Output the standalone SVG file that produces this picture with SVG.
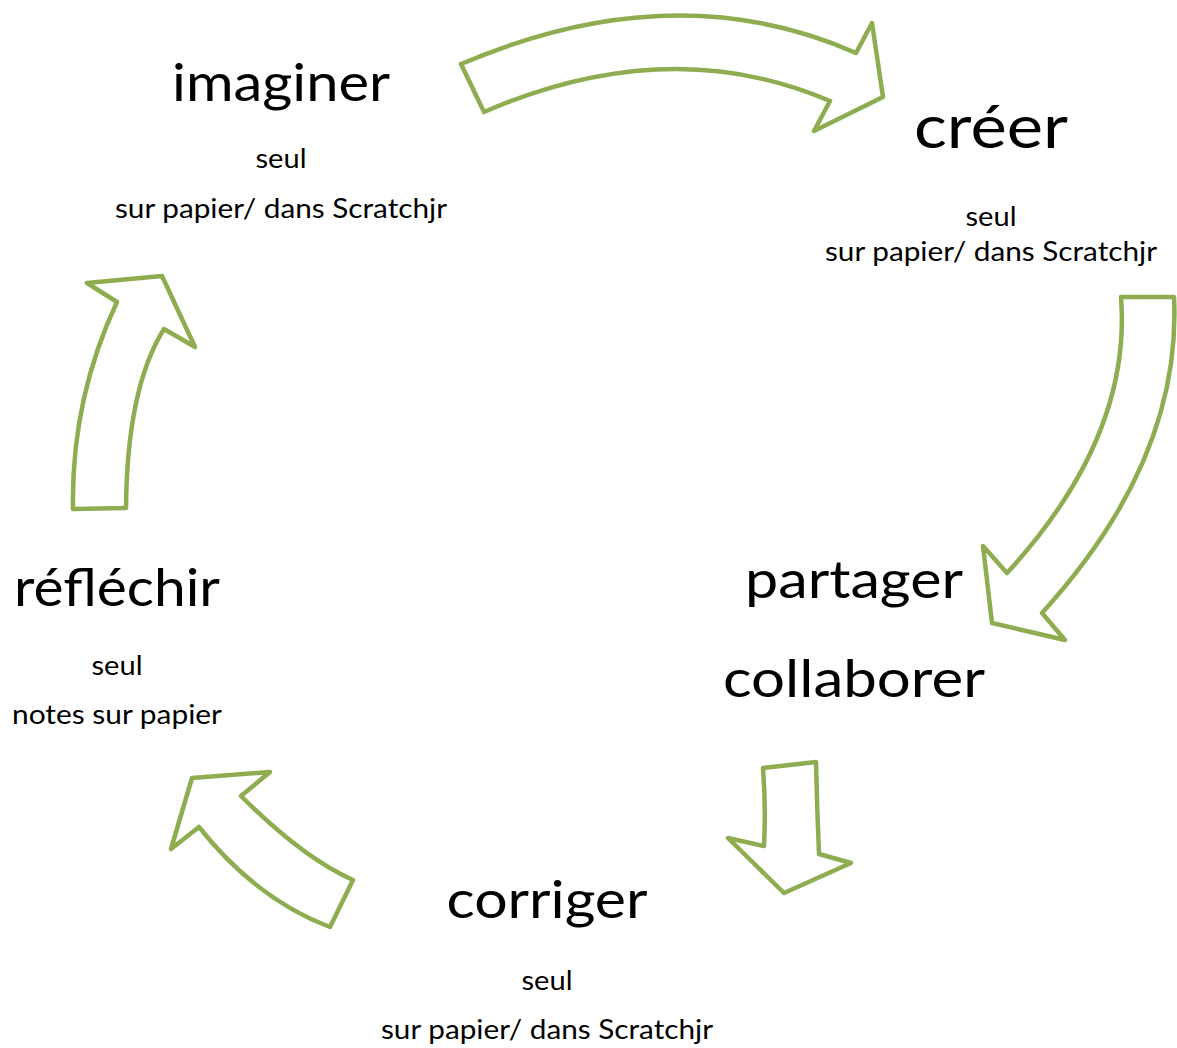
<svg xmlns="http://www.w3.org/2000/svg" width="1177" height="1048" viewBox="0 0 1177 1048">
<style>
.arrow{fill:#ffffff;stroke:#8eac50;stroke-width:4.5;stroke-linejoin:round}
.t{font-family:"Lato","Open Sans","Liberation Sans",sans-serif;fill:#000;text-anchor:middle}
.big{font-size:52px}
.small{font-size:26px}
</style>
<rect width="1177" height="1048" fill="#ffffff"/>
<g id="connectors">
<path class="arrow" d="M461,64 Q675,-27 856,53 L872,23 L883,97 L814,131 L830,101 Q669,32 484,112 Z"/>
<path class="arrow" d="M1121,297 L1174,297 Q1182,459 1042,613 L1065,640 L992,623 L983,546 L1007,573 Q1132,437 1121,297 Z"/>
<path class="arrow" d="M763,768 L816,762 Q817,808 819,854 L851,863 L784,893 L728,838 L764,846 Q766,807 763,768 Z"/>
<path class="arrow" d="M353,880 L330,927 Q256,899 199,827 L171,849 L192,778 L270,772 L241,796 Q303,858 353,880 Z"/>
<path class="arrow" d="M73,509 L126,508 Q127,388 164,329 L195,347 L162,276 L87,283 L117,302 Q71,400 73,509 Z"/>
</g>
<g id="imaginer">
<text class="t big" x="281" y="101" textLength="218" lengthAdjust="spacingAndGlyphs">imaginer</text>
<text class="t small" x="281" y="168" textLength="51" lengthAdjust="spacingAndGlyphs">seul</text>
<text class="t small" x="281" y="218" textLength="332" lengthAdjust="spacingAndGlyphs">sur papier/ dans Scratchjr</text>
</g>
<g id="creer">
<text class="t" style="font-size:60px" x="991" y="148" textLength="154" lengthAdjust="spacingAndGlyphs">créer</text>
<text class="t small" x="991" y="226" textLength="51" lengthAdjust="spacingAndGlyphs">seul</text>
<text class="t small" x="991" y="261" textLength="332" lengthAdjust="spacingAndGlyphs">sur papier/ dans Scratchjr</text>
</g>
<g id="partager">
<text class="t big" x="854" y="598" textLength="218" lengthAdjust="spacingAndGlyphs">partager</text>
<text class="t big" x="854" y="697" textLength="262" lengthAdjust="spacingAndGlyphs">collaborer</text>
</g>
<g id="corriger">
<text class="t big" x="547" y="918" textLength="201" lengthAdjust="spacingAndGlyphs">corriger</text>
<text class="t small" x="547" y="990" textLength="51" lengthAdjust="spacingAndGlyphs">seul</text>
<text class="t small" x="547" y="1039" textLength="332" lengthAdjust="spacingAndGlyphs">sur papier/ dans Scratchjr</text>
</g>
<g id="reflechir">
<text class="t big" x="117" y="606" textLength="206" lengthAdjust="spacingAndGlyphs">réfléchir</text>
<text class="t small" x="117" y="675" textLength="51" lengthAdjust="spacingAndGlyphs">seul</text>
<text class="t small" x="117" y="724" textLength="210" lengthAdjust="spacingAndGlyphs">notes sur papier</text>
</g>
</svg>
